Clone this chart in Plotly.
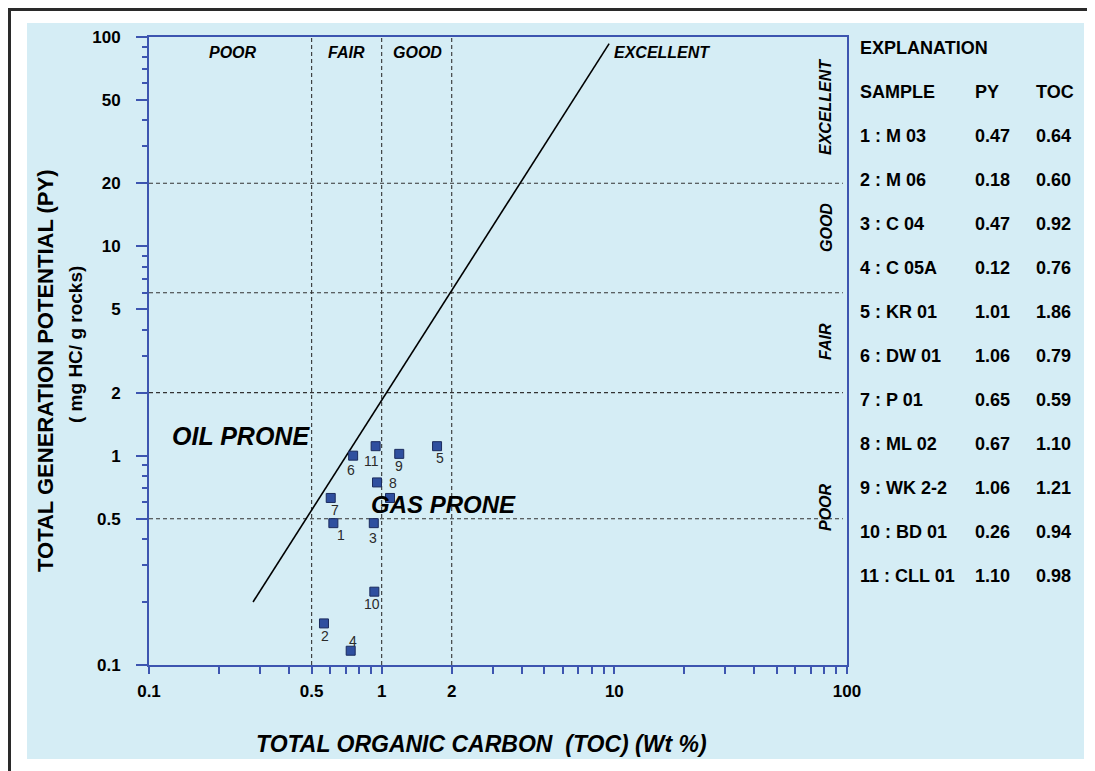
import numpy as np
import plotly.graph_objects as go

# ---------------- data ----------------
sample_no = [1, 2, 3, 4, 5, 6, 7, 8, 9, 10, 11]
sample_id = ["M 03", "M 06", "C 04", "C 05A", "KR 01", "DW 01", "P 01", "ML 02", "WK 2-2", "BD 01", "CLL 01"]
table_py = ["0.47", "0.18", "0.47", "0.12", "1.01", "1.06", "0.65", "0.67", "1.06", "0.26", "1.10"]
table_toc = ["0.64", "0.60", "0.92", "0.76", "1.86", "0.79", "0.59", "1.10", "1.21", "0.94", "0.98"]

# positions of the plotted points
plot_toc = [0.62, 0.565, 0.925, 0.736, 1.73, 0.754, 0.604, 1.086, 1.19, 0.93, 0.942]
plot_py = [0.476, 0.158, 0.476, 0.117, 1.11, 1.00, 0.628, 0.628, 1.02, 0.224, 1.11]
extra_toc = [0.955]
extra_py = [0.745]

toc_class_bounds = [0.5, 1, 2]
py_class_bounds = [0.5, 2, 6, 20]
toc_class_names = ["POOR", "FAIR", "GOOD", "EXCELLENT"]
py_class_names = ["POOR", "FAIR", "GOOD", "EXCELLENT"]

divider_toc = [0.28, 9.5]
divider_py = [0.2, 93]

x_tick_vals = [0.1, 0.5, 1, 2, 10, 100]
x_tick_text = ["0.1", "0.5", "1", "2", "10", "100"]
y_tick_vals = [0.1, 0.5, 1, 2, 5, 10, 20, 50, 100]
y_tick_text = ["0.1", "0.5", "1", "2", "5", "10", "20", "50", "100"]

# ---------------- styling ----------------
BG = "#d5edf5"
AXIS = "#3d55b0"
FONT = "Liberation Sans, Arial, sans-serif"
W, H = 1095, 771
PAGE_OFF = 8  # page body margin
# plot area in window pixels
L, R, T, B = 149, 847, 37, 665


def pxx(x):
    return (x - L) / (R - L)


def pxy(y):
    return (B - y) / (B - T)


def minor_vals(lo, hi, skip):
    vals = []
    dec = lo
    while dec < hi:
        for m in range(1, 10):
            v = round(m * dec, 6)
            if v not in skip and v <= hi:
                vals.append(v)
        dec *= 10
    return vals


def ann(x, y, text, size, angle=0, xanchor="center", color="black"):
    return dict(x=pxx(x), y=pxy(y), xref="paper", yref="paper", text=text, showarrow=False,
                textangle=angle, xanchor=xanchor, yanchor="middle",
                font=dict(family=FONT, size=size, color=color))


fig = go.Figure()

# class boundary dashed lines
for v in toc_class_bounds:
    fig.add_trace(go.Scatter(x=[v, v], y=[0.1, 100], mode="lines",
                             line=dict(color="#333333", width=1.1, dash="4px,3px"),
                             hoverinfo="skip"))
for v in py_class_bounds:
    fig.add_trace(go.Scatter(x=[0.1, 96], y=[v, v], mode="lines",
                             line=dict(color="#333333", width=1.1, dash="4px,3px"),
                             hoverinfo="skip"))

# oil / gas prone divider
fig.add_trace(go.Scatter(x=divider_toc, y=divider_py, mode="lines",
                         line=dict(color="black", width=1.6), hoverinfo="skip"))

# sample points
fig.add_trace(go.Scatter(x=plot_toc + extra_toc, y=plot_py + extra_py, mode="markers",
                         marker=dict(symbol="square", size=9, color="#2f4f9f",
                                     line=dict(color="#1b2b5e", width=1))))

annotations = []

# point labels
label_off = {1: (8, -12), 2: (1, -13), 3: (-1, -15), 4: (2, 10), 5: (3, -12), 6: (-2, -14),
             7: (4, -12), 8: (3, 15), 9: (0, -12), 10: (-2, -12), 11: (-4, -15)}
for n, tx, ty in zip(sample_no, plot_toc, plot_py):
    dx, dy = label_off[n]
    annotations.append(dict(x=np.log10(tx), y=np.log10(ty), xref="x", yref="y", text=str(n),
                            showarrow=False, xshift=dx, yshift=dy, xanchor="center", yanchor="middle",
                            font=dict(family=FONT, size=14, color="#2a2a2a")))

# TOC class names across the top
top_pos = [(233, "center"), (346, "center"), (417, "center"), (612, "left")]
for name, (x, anc) in zip(toc_class_names, top_pos):
    annotations.append(ann(x, 52, f"<b><i>{name}</i></b>", 16, xanchor=anc))

# PY class names (rotated) on right
right_pos = [507, 342, 228, 107]
for name, y in zip(py_class_names, right_pos):
    annotations.append(ann(826, y, f"<b><i>{name}</i></b>", 16, angle=-90))

# prone labels
annotations.append(ann(241, 436, "<b><i>OIL PRONE</i></b>", 25))
annotations.append(ann(443, 504, "<b><i>GAS PRONE</i></b>", 24))

# axis titles
annotations.append(ann(45, 371, "<b>TOTAL GENERATION POTENTIAL (PY)</b>", 22, angle=-90))
annotations.append(ann(75, 345, "<b>( mg HC/ g rocks)</b>", 19, angle=-90))
annotations.append(ann(481, 744, "<b><i>TOTAL ORGANIC CARBON &nbsp;(TOC) (Wt %)</i></b>", 23))

# explanation table
annotations.append(ann(858, 48, "<b>EXPLANATION</b>", 18, xanchor="left"))
for txt, x in zip(["SAMPLE", "PY", "TOC"], [858, 973, 1034]):
    annotations.append(ann(x, 92, f"<b>{txt}</b>", 18, xanchor="left"))
for i, (n, sid, p, t) in enumerate(zip(sample_no, sample_id, table_py, table_toc)):
    yy = 136 + 44 * i
    for txt, x in zip([f"{n} : {sid}", p, t], [858, 973, 1034]):
        annotations.append(ann(x, yy, f"<b>{txt}</b>", 18, xanchor="left"))

shapes = [
    dict(type="rect", xref="paper", yref="paper", x0=pxx(27), x1=pxx(1084), y0=pxy(759), y1=pxy(23),
         fillcolor=BG, line=dict(width=0), layer="below"),
    dict(type="line", xref="paper", yref="paper", x0=pxx(8), x1=pxx(1110), y0=pxy(9.5), y1=pxy(9.5),
         line=dict(color="#2a2a2a", width=3)),
    dict(type="line", xref="paper", yref="paper", x0=pxx(9.5), x1=pxx(9.5), y0=pxy(8), y1=pxy(790),
         line=dict(color="#2a2a2a", width=3)),
]

fig.update_layout(
    width=W, height=H,
    margin=dict(l=L - PAGE_OFF, r=W - (R - PAGE_OFF), t=T - PAGE_OFF, b=H - (B - PAGE_OFF)),
    paper_bgcolor="white", plot_bgcolor=BG,
    showlegend=False,
    font=dict(family=FONT, color="black"),
    annotations=annotations,
    shapes=shapes,
    xaxis=dict(type="log", range=[-1, 2], showgrid=False, zeroline=False,
               showline=True, linecolor=AXIS, linewidth=2, mirror=True,
               ticks="outside", ticklen=7, tickwidth=1.5, tickcolor=AXIS,
               tickmode="array", tickvals=x_tick_vals, ticktext=x_tick_text,
               tickfont=dict(family=FONT, size=17, color="black", weight="bold"),
               ticklabelstandoff=3,
               minor=dict(tickmode="array", tickvals=minor_vals(0.1, 100, x_tick_vals), ticks="outside",
                          ticklen=7, tickwidth=1.5, tickcolor=AXIS, showgrid=False)),
    yaxis=dict(type="log", range=[-1, 2], showgrid=False, zeroline=False,
               showline=True, linecolor=AXIS, linewidth=2, mirror=True,
               ticks="outside", ticklen=11, tickwidth=1.5, tickcolor=AXIS,
               tickmode="array", tickvals=y_tick_vals, ticktext=y_tick_text,
               tickfont=dict(family=FONT, size=17, color="black", weight="bold"),
               ticklabelstandoff=12,
               minor=dict(tickmode="array", tickvals=minor_vals(0.1, 100, y_tick_vals), ticks="outside",
                          ticklen=5, tickwidth=1.5, tickcolor=AXIS, showgrid=False)),
)

fig.write_html("out.html")
